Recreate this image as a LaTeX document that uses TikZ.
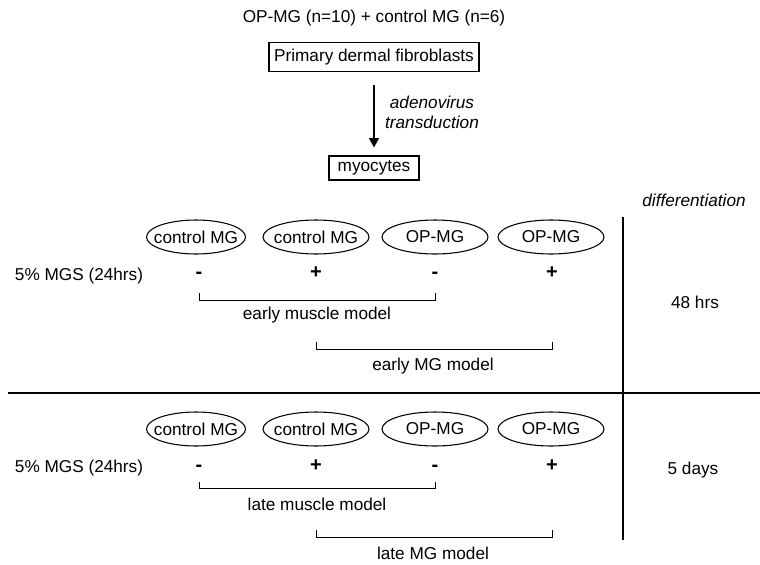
\documentclass[tikz,border=0pt]{standalone}
\usepackage{fontspec}
\setmainfont{Liberation Sans}
\usetikzlibrary{arrows.meta,shapes.geometric}

\tikzstyle{cellbox} = [
  draw,
  line width=0.9pt,
  inner sep=0pt,
]
\tikzstyle{group} = [
  ellipse,
  draw,
  line width=0.8pt,
  inner xsep=-10pt,
  inner ysep=0pt,
  minimum width=79.5pt,
  minimum height=25.5pt,
]
\tikzstyle{label} = [anchor=base, inner sep=0pt]
\tikzstyle{sign} = [anchor=base, inner sep=0pt, font=\fontsize{15}{18}\selectfont\bfseries]
\tikzstyle{bracket} = [line width=0.7pt]
\tikzstyle{divider} = [line width=1.9pt]

\begin{document}
\begin{tikzpicture}[x=0.75pt, y=-0.75pt, font=\fontsize{12.9}{15}\selectfont]
            \useasboundingbox (0,0) rectangle (760,564);

            % Cells
            \node (title) at (374,18) {OP-MG (n=10) + control MG (n=6)};
            \node[cellbox, minimum width=157.5pt, minimum height=21.75pt] (fibro) at (374,57) {Primary dermal fibroblasts};
            \node[cellbox, minimum width=67.5pt, minimum height=18pt] (myo) at (374,168) {myocytes};
            \draw[line width=0.9pt, -{Triangle[width=7.5pt,length=7pt]}, shorten <=9.5pt, shorten >=6pt] (fibro.south) -- (myo.north);
            \node[font=\fontsize{12.9}{15}\selectfont\itshape, align=center] (adeno) at (432,112) {adenovirus\\transduction};

            % Dividers
            \node[font=\fontsize{12.9}{15}\selectfont\itshape] (diff) at (694,200) {differentiation};
            \coordinate (vtop) at (623,217);
            \coordinate (vbot) at (623,540);
            \coordinate (hleft) at (8,393);
            \coordinate (hright) at (760,393);
            \draw[divider] (vtop) -- (vbot);
            \draw[divider] (hleft) -- (hright);

            % 48 hrs
            \node (early) at (695,302) {48 hrs};
            \node[label] (mgsA) at (79,280) {5\% MGS (24hrs)};
            \node[group, minimum width=74.25pt] (gA1) at (196,237) {control MG};
            \node[group] (gA2) at (316,237) {control MG};
            \node[group] (gA3) at (435,237) {OP-MG};
            \node[group] (gA4) at (551,237) {OP-MG};
            \node[sign] (sA1) at (199,278) {-};
            \node[sign] (sA2) at (316,278) {+};
            \node[sign] (sA3) at (435,278) {-};
            \node[sign] (sA4) at (552,278) {+};
            \draw[bracket] (sA1 |- 0,293) -- (sA1 |- 0,300) -- (sA3 |- 0,300) -- (sA3 |- 0,293);
            \node (muscleA) at (317,315) {early muscle model};
            \draw[bracket] (sA2 |- 0,342) -- (sA2 |- 0,349) -- (sA4 |- 0,349) -- (sA4 |- 0,342);
            \node (mgA) at (433,366) {early MG model};

            % 5 days
            \node (late) at (693,470) {5 days};
            \node[label] (mgsB) at (79,472) {5\% MGS (24hrs)};
            \node[group, minimum width=74.25pt] (gB1) at (196,429) {control MG};
            \node[group] (gB2) at (316,429) {control MG};
            \node[group] (gB3) at (435,429) {OP-MG};
            \node[group] (gB4) at (551,429) {OP-MG};
            \node[sign] (sB1) at (199,471) {-};
            \node[sign] (sB2) at (316,471) {+};
            \node[sign] (sB3) at (435,471) {-};
            \node[sign] (sB4) at (552,471) {+};
            \draw[bracket] (sB1 |- 0,482) -- (sB1 |- 0,488) -- (sB3 |- 0,488) -- (sB3 |- 0,482);
            \node (muscleB) at (317,504) {late muscle model};
            \draw[bracket] (sB2 |- 0,530) -- (sB2 |- 0,537) -- (sB4 |- 0,537) -- (sB4 |- 0,530);
            \node (mgB) at (433,553) {late MG model};
          \end{tikzpicture}
\end{document}
